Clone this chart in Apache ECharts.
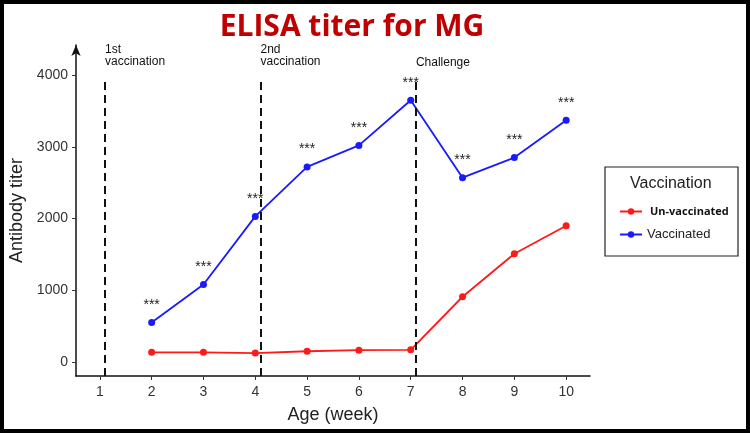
<!DOCTYPE html>
<html><head><meta charset="utf-8">
<script src="https://cdn.jsdelivr.net/npm/echarts@6/dist/echarts.min.js"></script>
<style>html,body{margin:0;padding:0;background:#fff}#c{width:750px;height:433px}</style>
</head><body><div id="c"></div>
<script>
const weeks = [2,3,4,5,6,7,8,9,10];
const vaccinated = [550,1080,2030,2720,3020,3650,2570,2850,3370];
const unvaccinated = [135,135,125,150,165,170,910,1510,1900];
const xTicks = [1,2,3,4,5,6,7,8,9,10];
const yTicks = [0,1000,2000,3000,4000];
const events = [{x:1.1,label:'1st\nvaccination'},{x:4.1,label:'2nd\nvaccination'},{x:7.1,label:'Challenge'}];

const chart = echarts.init(document.getElementById('c'));
const pair = (a) => weeks.map((w,i)=>[w,a[i]]);
chart.setOption({
  animation:false,
  title:{text:'ELISA titer for MG',left:347,top:7,textAlign:'center',
    textStyle:{color:'#c00000',fontSize:30,fontWeight:'bold',fontFamily:'Open Sans'}},
  grid:{left:76,right:160,top:45,bottom:57,outerBoundsMode:'none',containLabel:false},
  xAxis:{type:'value',min:0.54,max:10.46,interval:1,
    name:'Age (week)',nameLocation:'middle',nameGap:30,
    nameTextStyle:{fontSize:18,color:'#222',fontFamily:'Liberation Sans'},
    axisLine:{onZero:false,lineStyle:{color:'#111',width:1.5}},
    axisTick:{show:true,length:4,lineStyle:{color:'#333'},customValues:xTicks},
    axisLabel:{fontSize:14,color:'#333',fontFamily:'Liberation Sans',margin:9,customValues:xTicks},
    splitLine:{show:false}},
  yAxis:{type:'value',min:-195,max:4420,
    name:'Antibody titer',nameLocation:'middle',nameGap:47,
    nameTextStyle:{fontSize:18,color:'#222',fontFamily:'Liberation Sans'},
    axisLine:{show:true,onZero:false,symbol:['none','arrow'],symbolSize:[7,11],lineStyle:{color:'#111',width:1.5}},
    axisTick:{show:true,length:4,lineStyle:{color:'#333'},customValues:yTicks},
    axisLabel:{fontSize:14,color:'#333',fontFamily:'Liberation Sans',margin:8,customValues:yTicks,
      formatter:v=>String(v)},
    splitLine:{show:false}},
  legend:{orient:'vertical',left:614,top:201,itemGap:11,itemWidth:22,itemHeight:8,
    data:[{name:'Un-vaccinated',textStyle:{fontWeight:'bold',fontSize:11,color:'#111',fontFamily:'Open Sans',padding:[0,0,0,3]}},
          {name:'Vaccinated',textStyle:{fontSize:13,color:'#222',fontFamily:'Liberation Sans',padding:[0,0,0,0]}}]},
  graphic:[
    {type:'rect',shape:{x:2,y:2,width:746,height:429},style:{fill:'none',stroke:'#000',lineWidth:4}},
    {type:'rect',shape:{x:605,y:167,width:133,height:89},style:{fill:'#fff',stroke:'#222',lineWidth:1.2},z:-1},
    {type:'text',left:630,top:176,style:{text:'Vaccination',fontSize:16,fill:'#222',fontFamily:'Liberation Sans'}}
  ],
  series:[
    {name:'Un-vaccinated',type:'line',data:pair(unvaccinated),symbol:'circle',symbolSize:7,
      itemStyle:{color:'#ff1a1a'},lineStyle:{color:'#ff1a1a',width:1.8},
      markLine:{silent:true,symbol:'none',lineStyle:{color:'#111',type:[8,5],width:2},label:{show:false},
        data:events.map(e=>[{coord:[e.x,-195]},{coord:[e.x,3930]}])},
      markPoint:{symbol:'circle',symbolSize:0,
        label:{show:true,position:'right',distance:0,color:'#111',fontSize:12,lineHeight:12,fontFamily:'Liberation Sans',
          formatter:p=>p.name},
        data:events.map(e=>({name:e.label,coord:[e.x,e.label.indexOf('\n')>=0?4270:4180],value:0}))}},
    {name:'Vaccinated',type:'line',data:pair(vaccinated),symbol:'circle',symbolSize:7,
      itemStyle:{color:'#1a1aff'},lineStyle:{color:'#1a1aff',width:1.8},
      label:{show:true,position:'top',distance:7,formatter:'***',color:'#222',fontSize:14}}
  ]
});
</script></body></html>
